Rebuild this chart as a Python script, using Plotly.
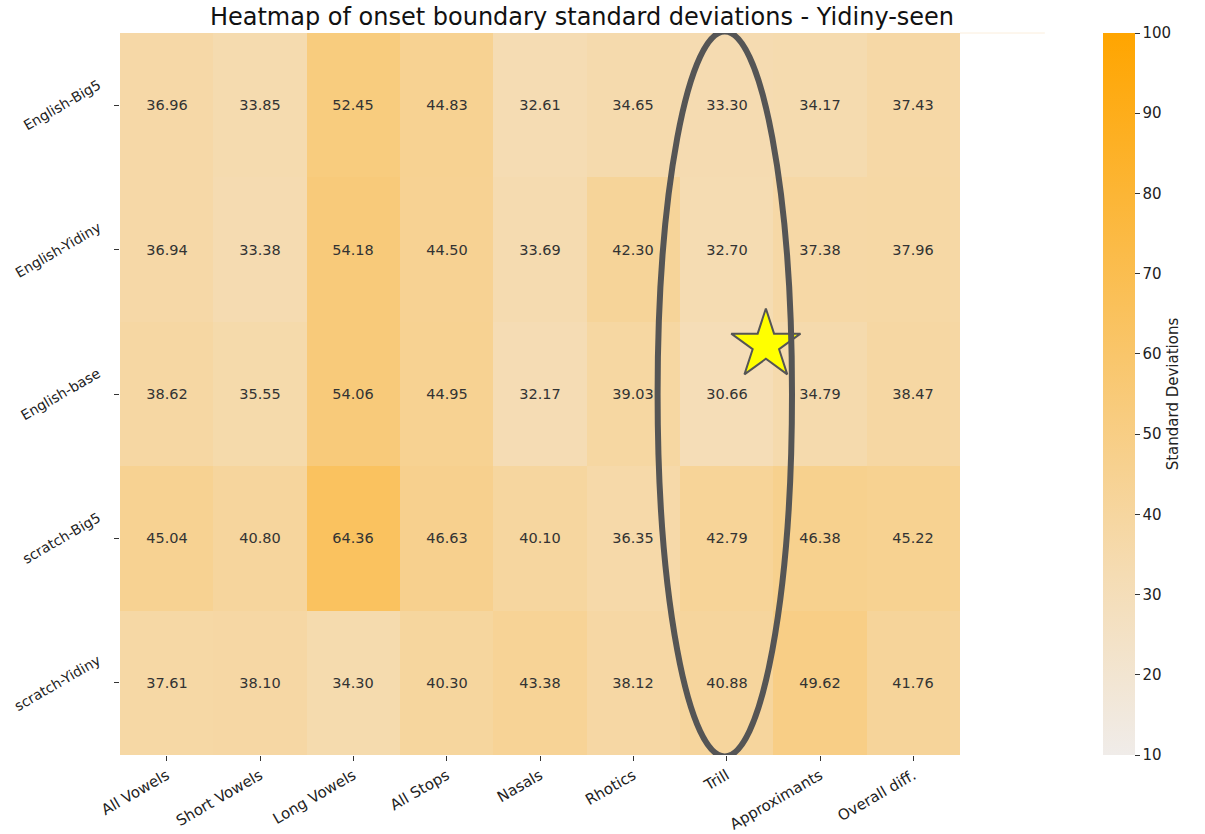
import plotly.graph_objects as go

models = ["English-Big5", "English-Yidiny", "English-base", "scratch-Big5", "scratch-Yidiny"]
categories = ["All Vowels", "Short Vowels", "Long Vowels", "All Stops", "Nasals",
              "Rhotics", "Trill", "Approximants", "Overall diff."]

english_big5 = [36.96, 33.85, 52.45, 44.83, 32.61, 34.65, 33.30, 34.17, 37.43]
english_yidiny = [36.94, 33.38, 54.18, 44.50, 33.69, 42.30, 32.70, 37.38, 37.96]
english_base = [38.62, 35.55, 54.06, 44.95, 32.17, 39.03, 30.66, 34.79, 38.47]
scratch_big5 = [45.04, 40.80, 64.36, 46.63, 40.10, 36.35, 42.79, 46.38, 45.22]
scratch_yidiny = [37.61, 38.10, 34.30, 40.30, 43.38, 38.12, 40.88, 49.62, 41.76]

z = [english_big5, english_yidiny, english_base, scratch_big5, scratch_yidiny]

colorscale = [[0.0, "#f0ece9"], [0.25, "#f5dcb3"], [1.0, "#ffa500"]]

font = "DejaVu Sans"

fig = go.Figure()
fig.add_trace(go.Heatmap(
    z=z,
    x=list(range(len(categories))),
    y=list(range(len(models))),
    zmin=10, zmax=100,
    colorscale=colorscale,
    texttemplate="%{z:.2f}",
    textfont=dict(family=font, size=14.5, color="#333333"),
    xgap=0, ygap=0,
    colorbar=dict(
        x=1.170, xanchor="left", xref="paper",
        y=0.5, yanchor="middle", len=1.0, lenmode="fraction",
        ypad=0, xpad=0,
        thickness=32, outlinewidth=0,
        tickmode="array", tickvals=list(range(10, 101, 10)),
        ticks="outside", ticklen=5, tickcolor="#333333",
        tickfont=dict(family=font, size=15, color="#222222"),
        title=dict(text="Standard Deviations", side="right",
                   font=dict(family=font, size=15, color="#222222")),
    ),
    hoverinfo="skip",
))

# Highlight the Trill column with an ellipse and mark it with a star
trill = categories.index("Trill")
fig.add_shape(type="circle", xref="x", yref="y",
              x0=trill - 0.74, x1=trill + 0.70, y0=-0.51, y1=len(models) - 0.49,
              line=dict(color="#555555", width=6))
fig.add_trace(go.Scatter(
    x=[trill + 0.42], y=[1.66], mode="markers",
    marker=dict(symbol="star", size=52, color="#ffff00",
                line=dict(color="#555555", width=2)),
    showlegend=False, hoverinfo="skip",
))

# Faint top border continuing past the heatmap
fig.add_shape(type="line", xref="paper", yref="paper",
              x0=1.0, x1=1.101, y0=1.0, y1=1.0,
              line=dict(color="#fbeedc", width=1))

# Row labels, rotated and centred on their ticks
for i, name in enumerate(models):
    fig.add_annotation(
        text=name, xref="paper", yref="y", x=0, y=i,
        xanchor="right", yanchor="middle", xshift=-14,
        textangle=-30, showarrow=False,
        font=dict(family=font, size=14, color="#222222"),
    )

fig.update_layout(
    width=1205, height=834,
    margin=dict(l=120, r=245, t=33, b=79, autoexpand=False),
    paper_bgcolor="white", plot_bgcolor="white",
    showlegend=False,
    title=dict(text="Heatmap of onset boundary standard deviations - Yidiny-seen",
               x=582 / 1205, xanchor="center", y=1 - 17 / 834, yanchor="middle",
               font=dict(family=font, size=24, color="#111111")),
    xaxis=dict(
        tickmode="array", tickvals=list(range(len(categories))), ticktext=categories,
        tickangle=-30, ticks="outside", ticklen=5, tickcolor="#333333",
        tickfont=dict(family=font, size=15, color="#222222"),
        range=[-0.5, len(categories) - 0.5], showgrid=False, zeroline=False,
        showline=False,
    ),
    yaxis=dict(
        tickmode="array", tickvals=list(range(len(models))),
        ticktext=[""] * len(models),
        ticks="outside", ticklen=5, tickcolor="#333333",
        range=[len(models) - 0.5, -0.5], showgrid=False, zeroline=False,
        showline=False,
    ),
)

fig.write_html("out.html")
